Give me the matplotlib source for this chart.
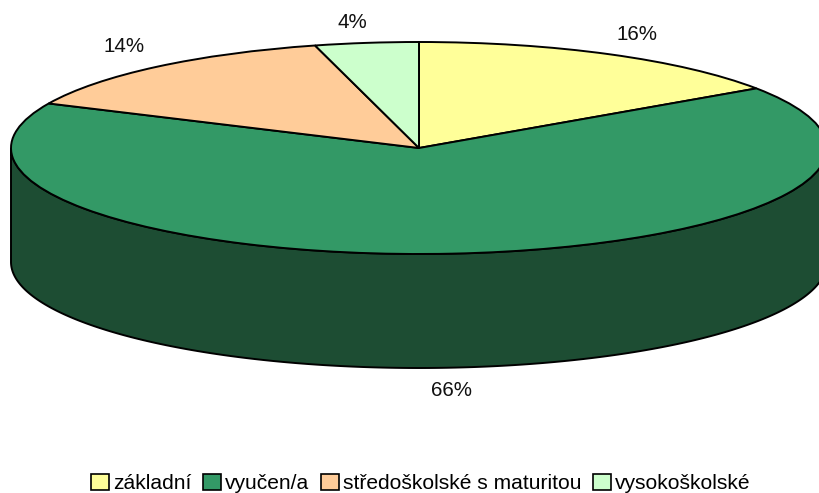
import numpy as np
import matplotlib
matplotlib.use("Agg")
import matplotlib.pyplot as plt
from matplotlib.patches import Patch

categories = ["základní", "vyučen/a", "středoškolské s maturitou", "vysokoškolské"]
values = [15.5, 66.4, 14.0, 4.1]
value_labels = ["16%", "66%", "14%", "4%"]
colors = ["#FFFF99", "#339966", "#FFCC99", "#CCFFCC"]
side_color = "#1D4D33"

W, H = 819, 493
CX, CY, RX, RY, DEPTH = 419, 148, 408, 106, 114

plt.rcParams["font.family"] = ["Liberation Sans", "DejaVu Sans"]
fig = plt.figure(figsize=(W / 100, H / 100), dpi=100)
ax = fig.add_axes([0, 0, 1, 1])

def ux(px):
    return (px - CX) / RX

def uy(py):
    return (CY - py) / RY

depth_u = DEPTH / RY

# side wall of the disc
t = np.linspace(0, np.pi, 300)
xs = np.cos(t)
ys = -np.sin(t)
wall_x = np.concatenate([xs, xs[::-1]])
wall_y = np.concatenate([ys, ys[::-1] - depth_u])
ax.fill(wall_x, wall_y, facecolor=side_color, edgecolor="black", linewidth=1.4, zorder=1)

# top face: unit-circle pie stretched into an ellipse by the axes limits
wedges, _ = ax.pie(values, colors=colors, startangle=90, counterclock=False,
                   radius=1, wedgeprops=dict(edgecolor="black", linewidth=1.4, zorder=2))

ax.set_aspect("auto")
ax.set_xlim(ux(0), ux(W))
ax.set_ylim(uy(H), uy(0))
ax.axis("off")

label_pos = [(637, 34), (452, 390), (124, 46), (352, 23)]
for lab, (px, py) in zip(value_labels, label_pos):
    ax.text(ux(px), uy(py), lab, ha="center", va="center", fontsize=14.8, color="#111111", zorder=5)

handles = [Patch(facecolor=c, edgecolor="black", linewidth=1.2) for c in colors]
fig.legend(handles, categories, loc="center", bbox_to_anchor=(421 / W, 1 - 483.5 / H), ncol=4,
           frameon=False, fontsize=15.1, handlelength=0.85, handleheight=0.85,
           handletextpad=0.2, columnspacing=0.55, borderpad=0)

fig.savefig("out.png", dpi=100)
